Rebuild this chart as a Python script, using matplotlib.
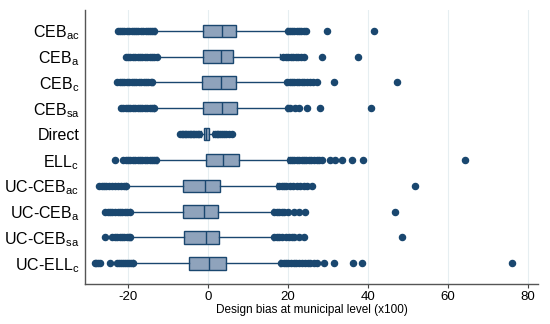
import matplotlib
matplotlib.use("Agg")
import matplotlib.pyplot as plt

plt.rcParams['font.family'] = ['Liberation Sans', 'DejaVu Sans']
plt.rcParams['mathtext.fontset'] = 'custom'
plt.rcParams['mathtext.rm'] = 'Liberation Sans'
plt.rcParams['mathtext.it'] = 'Liberation Sans'

# Rows from top to bottom
labels = ["CEB$_{\\mathrm{ac}}$", "CEB$_{\\mathrm{a}}$", "CEB$_{\\mathrm{c}}$", "CEB$_{\\mathrm{sa}}$",
          "Direct", "ELL$_{\\mathrm{c}}$", "UC-CEB$_{\\mathrm{ac}}$", "UC-CEB$_{\\mathrm{a}}$",
          "UC-CEB$_{\\mathrm{sa}}$", "UC-ELL$_{\\mathrm{c}}$"]
q1 = [-1.2, -1.2, -1.4, -1.2, -1.0, -0.4, -6.2, -6.2, -5.9, -4.7]
med = [3.6, 3.3, 3.3, 3.6, -0.4, 3.8, -0.75, -1.0, -0.5, 0.3]
q3 = [7.0, 6.3, 7.0, 7.2, 0.2, 7.8, 2.9, 2.6, 2.8, 4.5]
whislo = [-13.2, -12.4, -13.8, -13.5, -1.8, -12.8, -20.5, -19.5, -19.3, -18.7]
whishi = [19.7, 17.9, 19.5, 19.8, 1.3, 20.1, 17.2, 16.3, 16.3, 18.0]
fliers = [
    [-22.5, -22.0, -21.4, -20.9, -20.3, -19.8, -19.1, -18.6, -18.0, -17.4, -16.8, -16.2, -15.6, -15.0, -14.5, -14.0, -13.5,
     19.9, 20.5, 21.1, 21.6, 22.2, 22.7, 23.3, 23.9, 24.4, 29.8, 41.6],
    [-20.5, -20.0, -19.4, -18.8, -18.2, -17.6, -17.0, -16.4, -15.8, -15.2, -14.6, -14.0, -13.4, -12.8,
     18.8, 19.4, 20.0, 20.7, 21.3, 22.0, 22.6, 23.2, 24.0, 28.5, 37.6],
    [-22.7, -22.1, -21.5, -20.9, -20.3, -19.7, -19.1, -18.5, -17.9, -17.3, -16.7, -16.1, -15.5, -14.9, -14.3, -13.9,
     19.8, 20.4, 21.0, 21.6, 22.2, 22.8, 23.4, 24.1, 24.7, 25.5, 26.3, 27.2, 31.4, 47.2],
    [-21.8, -21.2, -20.6, -20.0, -19.4, -18.8, -18.2, -17.6, -17.0, -16.4, -15.8, -15.2, -14.6, -14.0, -13.6,
     20.0, 20.6, 21.7, 22.8, 24.7, 28.0, 40.8],
    [-7.0, -6.6, -6.2, -5.8, -5.4, -5.0, -4.6, -4.2, -3.8, -3.4, -3.0, -2.6, -2.2,
     1.8, 2.2, 2.6, 3.0, 3.4, 3.9, 4.6, 5.2, 5.9],
    [-23.3, -21.2, -20.6, -20.0, -19.4, -18.8, -18.2, -17.6, -17.0, -16.4, -15.8, -15.2, -14.6, -14.0, -13.4, -12.9,
     20.4, 21.0, 21.6, 22.2, 22.8, 23.4, 24.0, 24.6, 25.2, 25.8, 26.5, 27.2, 27.8, 28.4,
     30.5, 31.8, 33.4, 35.9, 38.8, 64.2],
    [-27.2, -26.6, -26.0, -25.4, -24.8, -24.0, -23.2, -22.5, -21.8, -21.1, -20.6,
     17.8, 18.4, 19.0, 19.6, 20.5, 21.3, 22.2, 23.0, 24.0, 24.8, 25.9, 51.8],
    [-25.7, -25.1, -24.5, -23.9, -23.2, -22.6, -22.0, -21.4, -20.8, -20.2, -19.6,
     16.6, 17.2, 17.8, 18.4, 19.0, 20.0, 21.5, 22.8, 24.2, 46.8],
    [-25.7, -23.9, -23.3, -22.7, -22.1, -21.5, -20.9, -20.3, -19.7, -19.4,
     16.6, 17.2, 17.8, 18.5, 19.5, 20.3, 20.9, 21.6, 22.7, 24.0, 48.4],
    [-28.3, -27.9, -27.4, -27.0, -24.5, -22.8, -22.3, -21.8, -21.3, -20.8, -20.3, -19.8, -19.3, -18.8,
     18.3, 18.9, 19.5, 20.1, 20.7, 21.4, 22.1, 22.8, 23.5, 24.2, 24.9, 25.6, 26.4, 27.2,
     29.1, 31.4, 36.3, 38.6, 76.1],
]
xticks = [-20, 0, 20, 40, 60, 80]
xlabel = "Design bias at municipal level (x100)"

navy = "#1a476f"
boxfill = "#8fa3bc"

fig = plt.figure(figsize=(5.5, 3.24), dpi=100)
ax = fig.add_axes([0.1545, 0.1235, 0.8235, 0.8455])

n = len(labels)
positions = [n - i for i in range(n)]
stats = []
for i in range(n):
    stats.append(dict(label=labels[i], q1=q1[i], med=med[i], q3=q3[i],
                      whislo=whislo[i], whishi=whishi[i], fliers=fliers[i]))

ax.bxp(stats, positions=positions, vert=False, widths=0.48, patch_artist=True,
       showfliers=True, capwidths=0.22,
       boxprops=dict(facecolor=boxfill, edgecolor=navy, linewidth=1.0),
       medianprops=dict(color=navy, linewidth=1.0),
       whiskerprops=dict(color=navy, linewidth=1.0),
       capprops=dict(color=navy, linewidth=1.0),
       flierprops=dict(marker='o', markerfacecolor=navy, markeredgecolor=navy,
                       markersize=4.4, linestyle='none'))

ax.set_xlim(-30.75, 82.5)
ax.set_ylim(0.2, 10.8)
ax.set_xticks(xticks)
ax.set_xticklabels([str(t) for t in xticks])
ax.set_yticks(positions)
ax.set_yticklabels(labels, fontsize=11.5)
ax.tick_params(axis='y', length=0, pad=4)
ax.tick_params(axis='x', length=3, width=0.8, color='#444444', labelsize=9.5, pad=2)
ax.set_xlabel(xlabel, fontsize=8.5, labelpad=1)
ax.grid(axis='x', color='#e6eef1', linewidth=0.8)
ax.set_axisbelow(True)
for s in ['top', 'right']:
    ax.spines[s].set_visible(False)
for s in ['left', 'bottom']:
    ax.spines[s].set_color('#555555')
    ax.spines[s].set_linewidth(1.0)

fig.savefig("out.png", dpi=100)
